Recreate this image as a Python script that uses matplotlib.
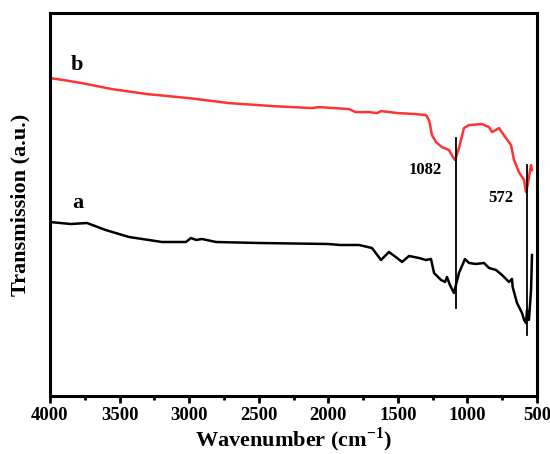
import numpy as np
import matplotlib
matplotlib.use('Agg')
import matplotlib.pyplot as plt
from matplotlib.ticker import MultipleLocator

# FTIR spectra (transmission in arbitrary units)
wn_b = [4000, 3900, 3770, 3554, 3300, 3001, 2713, 2400, 2117, 2066, 1851, 1803,
        1707, 1650, 1620, 1500, 1370, 1298, 1276, 1255, 1226, 1183, 1133, 1104, 1089, 1061,
        1025, 989, 895, 845, 823, 773, 738, 687, 665, 630, 593, 579, 565, 543, 536]
trans_b = [322, 320, 317, 311, 306, 302, 297, 294, 292, 293, 291, 288,
           288, 287, 289, 287, 286, 285, 280, 265, 258, 253, 250, 243, 240, 252,
           272, 275, 276, 273, 268, 272, 265, 255, 240, 228, 220, 208, 217, 235, 230]

wn_a = [4000, 3850, 3734, 3600, 3432, 3195, 3023, 2987, 2950, 2908, 2807, 2500,
        2000, 1916, 1779, 1686, 1621, 1564, 1506, 1470, 1420, 1348, 1298, 1262,
        1240, 1190, 1161, 1147, 1126, 1097, 1061, 1018, 989, 939, 881, 845, 795,
        752, 701, 680, 675, 644, 608, 593, 579, 572, 558, 543, 536]
trans_a = [178, 176, 177, 170, 163, 158, 158, 162, 160, 161, 158, 157,
           156, 155, 155, 152, 140, 148, 142, 138, 144, 142, 140, 141,
           127, 120, 118, 123, 115, 107, 127, 141, 137, 136, 137, 132, 130,
           125, 118, 121, 113, 97, 87, 80, 77, 90, 80, 110, 145]

peaks = [1082, 572]
peak_lines = [(92, 262), (65, 235)]
peak_text = [(1305, 230), (759, 202)]

plt.rcParams['font.family'] = ['Liberation Serif', 'DejaVu Serif']
plt.rcParams['font.weight'] = 'bold'
plt.rcParams['mathtext.fontset'] = 'custom'
plt.rcParams['mathtext.rm'] = 'Liberation Serif:bold'
plt.rcParams['mathtext.bf'] = 'Liberation Serif:bold'

fig = plt.figure(figsize=(5.5, 4.54), dpi=100)
ax = fig.add_axes([0.0909, 0.128, 0.8855, 0.843])

ax.plot(wn_a, trans_a, color='black', lw=1.8)
ax.plot(wn_b, trans_b, color='#ff3333', lw=1.8)

for p, (lo, hi), (tx, ty) in zip(peaks, peak_lines, peak_text):
    ax.plot([p, p], [lo, hi], color='black', lw=1.3)
    ax.text(tx, ty, str(p), fontsize=12, fontweight='bold', ha='center', va='center')

ax.text(3806, 335, 'b', fontsize=16, fontweight='bold', ha='center', va='center')
ax.text(3799, 197, 'a', fontsize=16, fontweight='bold', ha='center', va='center')

ax.set_xlim(4000, 500)
ax.set_ylim(4, 387)
ax.xaxis.set_major_locator(MultipleLocator(500))
ax.xaxis.set_minor_locator(MultipleLocator(250))
ax.set_yticks([])
ax.tick_params(axis='x', which='major', direction='out', length=5, width=2, labelsize=13.5, pad=3)
ax.tick_params(axis='x', which='minor', direction='out', length=3, width=2)
for s in ax.spines.values():
    s.set_linewidth(2.2)

ax.set_xlabel('Wavenumber (cm$^{\\mathbf{-1}}$)', fontsize=16, fontweight='bold', labelpad=1)
ax.set_ylabel('Transmission (a.u.)', fontsize=16, fontweight='bold', labelpad=14)

fig.savefig('out.png', dpi=100)
